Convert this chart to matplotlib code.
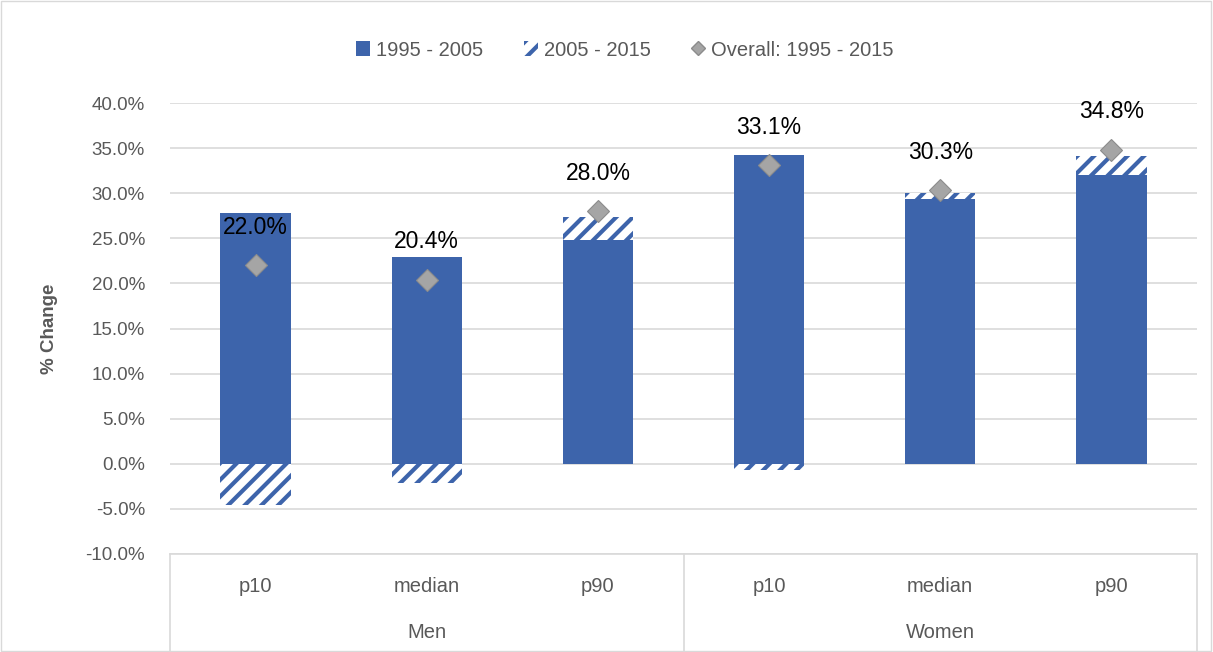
import matplotlib
matplotlib.use("Agg")
import matplotlib.pyplot as plt
from matplotlib.patches import Patch, Rectangle
from matplotlib.lines import Line2D
from matplotlib.ticker import FuncFormatter
import numpy as np

# values (% change)
groups = ["Men", "Women"]
subcats = ["p10", "median", "p90", "p10", "median", "p90"]
change_95_05 = [27.8, 22.9, 24.8, 34.2, 29.4, 32.0]
change_05_15 = [-4.6, -2.1, 2.6, -0.7, 0.6, 2.1]
overall_95_15 = [22.0, 20.4, 28.0, 33.1, 30.3, 34.8]
yticks = [-10, -5, 0, 5, 10, 15, 20, 25, 30, 35, 40]

BLUE = "#3d64ab"
GRID = "#d9d9d9"
TXT = "#595959"

plt.rcParams["font.family"] = ["Liberation Sans", "DejaVu Sans"]
plt.rcParams["hatch.linewidth"] = 3.0
plt.rcParams["hatch.color"] = BLUE

fig = plt.figure(figsize=(12.13, 6.52), dpi=100)
ax = fig.add_axes((170 / 1213, 98 / 652, 1027 / 1213, 451 / 652))

x = np.arange(len(subcats))
w = 0.41
solid = np.array(change_95_05)
extra = np.array(change_05_15)
# hatched segment sits on top of the solid bar when positive, below zero when negative
hatch_bottom = np.where(extra >= 0, solid, 0)

ax.bar(x, solid, width=w, color=BLUE, zorder=2)
ax.bar(x, extra, width=w, bottom=hatch_bottom, color="white", edgecolor=BLUE,
       linewidth=0, hatch="//", zorder=2)
ax.plot(x, overall_95_15, linestyle="none", marker="D", markersize=11,
        markerfacecolor="#a5a5a5", markeredgecolor="#8c8c8c", markeredgewidth=0.8, zorder=3)

for xi, v in zip(x, overall_95_15):
    ax.annotate(f"{v:.1f}%", (xi, v), xytext=(0, 38), textcoords="offset pixels",
                ha="center", va="center", fontsize=16.5, color="black", zorder=4)

ax.set_xlim(-0.5, len(subcats) - 0.5)
ax.set_ylim(-10, 40)
ax.set_yticks(yticks)
ax.yaxis.set_major_formatter(FuncFormatter(lambda v, p: f"{v:.1f}%"))
ax.tick_params(axis="y", length=0, pad=18, labelsize=13.5, labelcolor=TXT)
ax.set_xticks([])
ax.grid(axis="y", color=GRID, linewidth=1.2, zorder=0)
ax.set_axisbelow(True)
for s in ax.spines.values():
    s.set_visible(False)
ax.set_ylabel("% Change", fontsize=13.5, fontweight="bold", color=TXT, labelpad=20)

# two-level category axis
ax.plot([-0.5, 5.5], [0, 0], transform=ax.get_xaxis_transform(), color=GRID, lw=1.2, clip_on=False)
for xv in [-0.5, 2.5, 5.5]:
    ax.plot([xv, xv], [0, -0.23], transform=ax.get_xaxis_transform(), color=GRID,
            lw=1.2, clip_on=False)
for xi, lab in zip(x, subcats):
    ax.text(xi, -0.071, lab, transform=ax.get_xaxis_transform(), ha="center", va="center",
            fontsize=14.5, color=TXT)
for gi, g in enumerate(groups):
    ax.text(1 + 3 * gi, -0.173, g, transform=ax.get_xaxis_transform(), ha="center",
            va="center", fontsize=14.5, color=TXT)

handles = [
    Patch(facecolor=BLUE, label="1995 - 2005"),
    Patch(facecolor="white", edgecolor=BLUE, linewidth=0, hatch="//", label="2005 - 2015"),
    Line2D([], [], linestyle="none", marker="D", markersize=7, markerfacecolor="#a5a5a5",
           markeredgecolor="#8c8c8c", label="Overall: 1995 - 2015"),
]
leg = fig.legend(handles=handles, loc="center", bbox_to_anchor=(625 / 1213, 1 - 50 / 652),
                 ncol=3, frameon=False, fontsize=14.5, handlelength=0.7, handleheight=0.7,
                 handletextpad=0.3, columnspacing=2.0)
for t in leg.get_texts():
    t.set_color(TXT)

fig.patches.append(Rectangle((0.001, 0.001), 0.997, 0.997, transform=fig.transFigure,
                             fill=False, edgecolor=GRID, lw=1))

fig.savefig("out.png", dpi=100)
